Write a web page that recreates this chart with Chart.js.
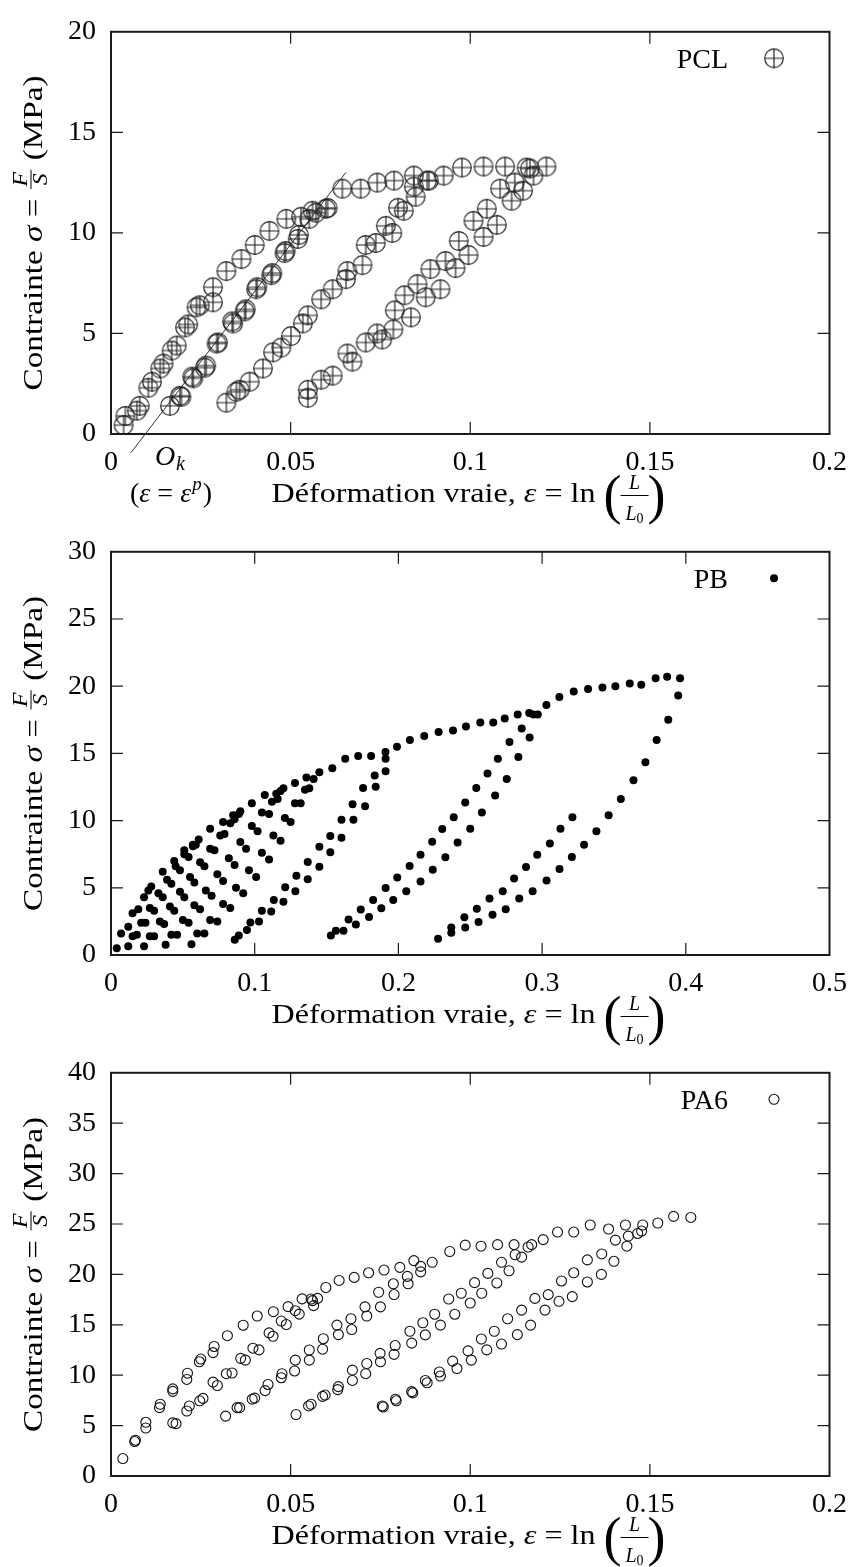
<!DOCTYPE html>
<html>
<head>
<meta charset="utf-8">
<script src="https://cdn.jsdelivr.net/npm/chart.js@4.4.1/dist/chart.umd.min.js"></script>
<style>
  html, body { margin: 0; padding: 0; background: #fff; }
  body { position: relative; width: 859px; height: 1567px; overflow: hidden; }
  canvas { position: absolute; left: 0; }
</style>
</head>
<body>
<canvas id="graficoPCL" width="859" height="560" style="top:0px"></canvas>
<canvas id="graficoPB" width="859" height="560" style="top:520px"></canvas>
<canvas id="graficoPA6" width="859" height="526" style="top:1041px"></canvas>
<script>
// ticks
const ticksStrainA = [0, 0.05, 0.1, 0.15, 0.2];
const labelsStrainA = ['0', '0.05', '0.1', '0.15', '0.2'];
const ticksStrainB = [0, 0.1, 0.2, 0.3, 0.4, 0.5];
const labelsStrainB = ['0', '0.1', '0.2', '0.3', '0.4', '0.5'];
const ticksStressPCL = [0, 5, 10, 15, 20];
const ticksStressPB = [0, 5, 10, 15, 20, 25, 30];
const ticksStressPA6 = [0, 5, 10, 15, 20, 25, 30, 35, 40];

// PCL : deformation / contrainte
const pclStrain = [
  0.0035, 0.0040, 0.0072, 0.0080, 0.0104, 0.0114, 0.0137, 0.0146, 0.0169, 0.0183, 0.0206, 0.0215,
  0.0238, 0.0247, 0.0284, 0.0284, 0.0321, 0.0363, 0.0400, 0.0441, 0.0488, 0.0529, 0.0561, 0.0598,
  0.0644, 0.0695, 0.0741, 0.0788, 0.0843, 0.0885, 0.0926, 0.0977, 0.1037, 0.1097, 0.1157, 0.1212,
  0.0164, 0.0192, 0.0196, 0.0229, 0.0226, 0.0261, 0.0265, 0.0298, 0.0294, 0.0340, 0.0337, 0.0372,
  0.0375, 0.0404, 0.0407, 0.0446, 0.0449, 0.0483, 0.0486, 0.0520, 0.0523, 0.0552, 0.0570, 0.0603,
  0.0321, 0.0349, 0.0358, 0.0386, 0.0423, 0.0451, 0.0474, 0.0501, 0.0534, 0.0548, 0.0585, 0.0617,
  0.0658, 0.0654, 0.0700, 0.0709, 0.0737, 0.0765, 0.0783, 0.0799, 0.0815, 0.0843, 0.0848, 0.0880,
  0.0548, 0.0548, 0.0585, 0.0617, 0.0658, 0.0672, 0.0709, 0.0741, 0.0755, 0.0786, 0.0790, 0.0817,
  0.0835, 0.0853, 0.0876, 0.0889, 0.0917, 0.0931, 0.0959, 0.0968, 0.0995, 0.1009, 0.1037, 0.1046,
  0.1074, 0.1083, 0.1115, 0.1124, 0.1147, 0.1166, 0.1176
];
const pclStress = [
  0.44, 0.90, 1.16, 1.40, 2.30, 2.60, 3.26, 3.50, 4.15, 4.40, 5.30, 5.45,
  6.30, 6.40, 6.55, 7.30, 8.10, 8.70, 9.40, 10.10, 10.70, 10.80, 11.10, 11.20,
  12.20, 12.20, 12.50, 12.60, 12.85, 12.60, 12.85, 13.25, 13.30, 13.30, 13.25, 13.30,
  1.40, 1.90, 1.85, 2.77, 2.85, 3.30, 3.40, 4.55, 4.50, 5.50, 5.60, 6.10,
  6.20, 7.20, 7.30, 7.90, 8.00, 9.00, 9.10, 9.70, 9.90, 10.70, 11.00, 11.24,
  1.56, 2.10, 2.20, 2.60, 3.26, 4.06, 4.30, 4.87, 5.50, 5.90, 6.70, 7.20,
  8.10, 7.70, 8.40, 9.40, 9.50, 10.35, 10.00, 11.25, 11.10, 12.30, 11.80, 12.60,
  2.20, 1.80, 2.70, 2.90, 4.00, 3.60, 4.55, 5.00, 4.70, 5.20, 6.15, 6.90,
  5.80, 7.45, 6.80, 8.20, 7.20, 8.60, 8.25, 9.60, 8.90, 10.60, 9.80, 11.20,
  10.40, 12.20, 11.60, 12.50, 12.10, 13.20, 12.85
];
// droite elastique passant par O_k
const pclSlopeStrain = [0.0056, 0.0654];
const pclSlopeStress = [-0.92, 13.01];

// PB
const pbStrain = [
  0.004, 0.007, 0.012, 0.015, 0.019, 0.023, 0.026, 0.028, 0.036, 0.044, 0.051, 0.057,
  0.061, 0.069, 0.078, 0.085, 0.090, 0.098, 0.107, 0.115, 0.120, 0.128, 0.136, 0.145,
  0.154, 0.163, 0.172, 0.181, 0.191, 0.199, 0.208, 0.218, 0.228, 0.238, 0.247, 0.257,
  0.266, 0.274, 0.283, 0.291, 0.294, 0.297, 0.303, 0.312, 0.322, 0.332, 0.342, 0.351,
  0.361, 0.369, 0.379, 0.387, 0.396,
  0.3947, 0.3878, 0.3797, 0.3719, 0.3636, 0.3548, 0.3463, 0.3378, 0.3292, 0.3207, 0.3121, 0.3031,
  0.2934, 0.2841, 0.2747, 0.2655, 0.2558, 0.2465, 0.2368, 0.2276,
  0.2368, 0.2459, 0.2546, 0.2634, 0.2726, 0.2805, 0.2888, 0.2966, 0.3054, 0.3128, 0.3211,
  0.2913, 0.2835, 0.2754, 0.2673, 0.2581, 0.2500, 0.2412, 0.2327, 0.2239, 0.2154, 0.2055, 0.1964,
  0.1881, 0.1796, 0.1704, 0.1618, 0.1530,
  0.1565, 0.1653, 0.1738, 0.1824, 0.1911, 0.1992, 0.2078, 0.2154, 0.2235, 0.2305, 0.2385, 0.2465,
  0.2542, 0.2620, 0.2692, 0.2773, 0.2858,
  0.1911, 0.1842, 0.1768, 0.1687, 0.1604, 0.1526, 0.1450, 0.1369, 0.1283, 0.1200, 0.1115, 0.1030,
  0.0946, 0.0861,
  0.0889, 0.0970, 0.1050, 0.1133, 0.1212, 0.1290, 0.1369, 0.1450, 0.1526, 0.1604, 0.1681, 0.1754,
  0.1835, 0.1911,
  0.056, 0.065, 0.074, 0.083, 0.092, 0.101, 0.110, 0.118, 0.125, 0.132, 0.138,
  0.060, 0.069, 0.078, 0.087, 0.096, 0.105, 0.113, 0.121, 0.128, 0.135, 0.141,
  0.038, 0.046, 0.054, 0.062, 0.070, 0.078, 0.086, 0.094, 0.102, 0.110, 0.116,
  0.042, 0.050, 0.058, 0.066, 0.074, 0.082, 0.090, 0.098, 0.105, 0.112, 0.118,
  0.023, 0.030, 0.037, 0.044, 0.051, 0.058, 0.065, 0.072, 0.079, 0.086,
  0.027, 0.034, 0.041, 0.048, 0.055, 0.062, 0.069, 0.076, 0.083, 0.089,
  0.012, 0.018, 0.024, 0.030, 0.036, 0.042, 0.048, 0.054, 0.059,
  0.015, 0.021, 0.027, 0.033, 0.039, 0.045, 0.051, 0.057
];
const pbStress = [
  0.5, 1.6, 2.1, 3.1, 3.4, 4.3, 4.8, 5.1, 6.2, 7.0, 7.8, 8.1,
  8.6, 9.4, 9.9, 10.4, 10.7, 11.3, 11.9, 12.0, 12.4, 12.8, 13.2, 13.6,
  13.9, 14.6, 14.8, 14.8, 15.1, 15.5, 16.0, 16.3, 16.6, 16.7, 17.0, 17.3,
  17.3, 17.6, 17.9, 18.0, 17.9, 17.9, 18.6, 19.2, 19.6, 19.8, 19.9, 20.0,
  20.2, 20.1, 20.6, 20.7, 20.6,
  19.3, 17.5, 16.0, 14.35, 13.0, 11.6, 10.4, 9.2, 8.2, 7.3, 6.4, 5.55,
  4.75, 4.2, 3.4, 3.0, 2.45, 2.05, 1.65, 1.2,
  2.05, 2.8, 3.45, 4.2, 4.75, 5.7, 6.55, 7.45, 8.3, 9.4, 10.25,
  16.18, 14.74, 13.1, 11.87, 10.6, 9.4, 8.37, 7.28, 6.34, 5.47, 4.75, 4.1,
  3.47, 2.82, 2.27, 1.8, 1.45,
  1.8, 2.65, 3.38, 4.1, 4.99, 5.76, 6.63, 7.45, 8.42, 9.38, 10.25, 11.34,
  12.42, 13.5, 14.6, 15.85, 16.86,
  13.68, 12.52, 11.07, 10.06, 8.73, 7.65, 6.56, 5.64, 4.75, 3.96, 3.23, 2.5,
  1.86, 1.13,
  1.45, 2.41, 3.3, 4.1, 5.04, 5.9, 6.92, 8.06, 8.85, 10.06, 11.22, 12.42,
  13.36, 14.6,
  0.8, 1.6, 2.5, 3.5, 4.6, 5.8, 7.1, 8.5, 9.9, 11.3, 12.4,
  1.6, 2.6, 3.8, 5.0, 6.3, 7.6, 8.9, 10.2, 11.3, 12.3, 13.1,
  0.77, 1.5, 2.4, 3.4, 4.4, 5.5, 6.7, 7.9, 9.2, 10.5, 11.6,
  1.5, 2.6, 3.7, 4.8, 6.0, 7.2, 8.4, 9.6, 10.6, 11.4, 12.2,
  0.65, 1.4, 2.3, 3.3, 4.3, 5.4, 6.6, 7.8, 9.0, 10.1,
  1.4, 2.5, 3.6, 4.7, 5.8, 6.9, 7.9, 8.9, 9.8, 10.5,
  0.65, 1.5, 2.4, 3.3, 4.3, 5.3, 6.3, 7.3, 8.2,
  1.4, 2.4, 3.5, 4.6, 5.6, 6.6, 7.5, 8.2
];

// PA6
const pa6Strain = [
  0.0033, 0.0066, 0.0068, 0.0097, 0.0097, 0.0135, 0.0137, 0.0172, 0.0172, 0.0211, 0.0213, 0.0246,
  0.0250, 0.0284, 0.0287, 0.0324, 0.0368, 0.0407, 0.0452, 0.0493, 0.0532, 0.0561, 0.0575, 0.0598,
  0.0635, 0.0677, 0.0717, 0.0760, 0.0804, 0.0843, 0.0862, 0.0894, 0.0943, 0.0986, 0.1030, 0.1076,
  0.1122, 0.1203, 0.1243, 0.1288, 0.1334, 0.1385, 0.1432, 0.1480, 0.1522, 0.1566, 0.1614,
  0.0172, 0.0181, 0.0211, 0.0218, 0.0247, 0.0256, 0.0284, 0.0296, 0.0321, 0.0337, 0.0361, 0.0374,
  0.0395, 0.0412, 0.0440, 0.0451, 0.0474, 0.0488, 0.0513, 0.0524, 0.0557, 0.0564,
  0.0319, 0.0351, 0.0358, 0.0393, 0.0400, 0.0429, 0.0437, 0.0474, 0.0476, 0.0511, 0.0513, 0.0552,
  0.0552, 0.0589, 0.0591, 0.0633, 0.0629, 0.0670, 0.0668, 0.0712, 0.0707, 0.0750, 0.0745, 0.0788,
  0.0786, 0.0827, 0.0825, 0.0862,
  0.0515, 0.0550, 0.0557, 0.0589, 0.0596, 0.0631, 0.0633, 0.0672, 0.0672, 0.0709, 0.0712, 0.0750,
  0.0749, 0.0788, 0.0791, 0.0837, 0.0832, 0.0868, 0.0875, 0.0901, 0.0917, 0.0940, 0.0957, 0.0975,
  0.1000, 0.1012, 0.1032, 0.1049, 0.1074, 0.1087, 0.1108, 0.1125, 0.1143, 0.1161, 0.1171,
  0.0755, 0.0758, 0.0792, 0.0794, 0.0837, 0.0840, 0.0875, 0.0880, 0.0914, 0.0917, 0.0951, 0.0963,
  0.0994, 0.1003, 0.1031, 0.1046, 0.1067, 0.1087, 0.1104, 0.1131, 0.1143, 0.1168, 0.1180, 0.1208,
  0.1217, 0.1247, 0.1254, 0.1284, 0.1288, 0.1326, 0.1326, 0.1365, 0.1366, 0.1400, 0.1404, 0.1436,
  0.1440, 0.1466, 0.1477
];
const pa6Stress = [
  1.73, 3.42, 3.55, 4.76, 5.33, 6.78, 7.12, 8.40, 8.64, 9.58, 10.20, 11.33,
  11.60, 12.24, 12.85, 13.92, 14.96, 15.87, 16.30, 16.80, 17.57, 17.40, 17.62, 18.70,
  19.40, 19.70, 20.16, 20.43, 20.70, 21.37, 20.80, 21.20, 22.27, 22.90, 22.80, 22.95,
  22.95, 23.45, 24.20, 24.20, 24.90, 24.50, 24.90, 24.90, 25.10, 25.76, 25.65,
  5.27, 5.20, 6.45, 6.95, 7.46, 7.70, 9.31, 8.98, 10.15, 10.22, 11.67, 11.50,
  12.68, 12.51, 14.20, 13.86, 15.37, 15.03, 16.40, 16.06, 17.56, 16.90,
  5.94, 6.78, 6.78, 7.62, 7.73, 8.47, 9.08, 9.75, 10.15, 10.42, 11.50, 11.50,
  12.50, 12.58, 13.62, 14.03, 14.97, 14.53, 15.60, 15.87, 16.78, 16.78, 18.23, 18.00,
  19.07, 19.07, 19.80, 20.25,
  6.10, 6.95, 7.12, 7.90, 8.03, 8.57, 8.87, 9.48, 10.50, 10.15, 11.16, 11.33,
  12.17, 12.07, 12.94, 13.18, 14.36, 15.20, 14.00, 16.05, 14.97, 17.56, 16.05, 18.13,
  17.16, 19.18, 18.13, 20.10, 19.15, 21.20, 20.36, 21.95, 21.71, 22.72, 22.95,
  6.95, 6.85, 7.62, 7.46, 8.37, 8.25, 9.48, 9.25, 10.32, 9.92, 11.40, 10.66,
  12.41, 11.50, 13.59, 12.51, 14.36, 13.09, 15.60, 14.03, 16.46, 14.97, 17.62, 16.46,
  17.99, 17.33, 19.35, 17.80, 20.16, 19.25, 21.44, 20.00, 22.03, 21.30, 23.40, 22.80,
  23.80, 24.06, 24.30
];

const FAM = '"Liberation Serif", "Times New Roman", serif';
const RM = '28px ' + FAM;
const IT = 'italic 28px ' + FAM;
const SMI = 'italic 20px ' + FAM;
const TINY = '14px ' + FAM;

function pares(xs, ys) {
    return xs.map((x, i) => ({ x: x, y: ys[i] }));
}

function circuloCruz() {
    let c = document.createElement('canvas');
    c.width = 22;
    c.height = 22;
    let g = c.getContext('2d');
    g.strokeStyle = '#1e1e1e';
    g.lineWidth = 1.15;
    g.beginPath();
    g.arc(11, 11, 9.3, 0, 2 * Math.PI);
    g.moveTo(11, 1.7); g.lineTo(11, 20.3);
    g.moveTo(1.7, 11); g.lineTo(20.3, 11);
    g.stroke();
    return c;
}
const marcaPCL = circuloCruz();

function runWidth(ctx, parts) {
    let w = 0;
    parts.forEach(p => { ctx.font = p[1]; w += ctx.measureText(p[0]).width; });
    return w;
}

function drawRun(ctx, parts, x, y) {
    parts.forEach(p => {
        ctx.font = p[1];
        ctx.fillText(p[0], x, y);
        x += ctx.measureText(p[0]).width;
    });
    return x;
}

function drawYTitle(ctx, cy) {
    const before = [['Contrainte ', RM], ['σ', IT], [' = ', RM]];
    const after = [[' (MPa)', RM]];
    ctx.font = SMI;
    const fw = Math.max(ctx.measureText('F').width, ctx.measureText('S').width) + 6;
    const total = runWidth(ctx, before) + fw + runWidth(ctx, after);
    ctx.save();
    ctx.translate(42, cy);
    ctx.rotate(-Math.PI / 2);
    ctx.scale(315 / total, 1);
    ctx.textAlign = 'left';
    let x = drawRun(ctx, before, -total / 2, 0);
    ctx.font = SMI;
    ctx.textAlign = 'center';
    ctx.fillText('F', x + fw / 2, -15);
    ctx.fillText('S', x + fw / 2, 5);
    ctx.fillRect(x + 1, -11.5, fw - 2, 1);
    ctx.textAlign = 'left';
    drawRun(ctx, after, x + fw, 0);
    ctx.restore();
}

function drawXTitle(ctx, cx, bottom) {
    const run = [['Déformation vraie, ', RM], ['ε', IT], [' = ', RM], ['ln', RM]];
    const w = runWidth(ctx, run);
    ctx.save();
    ctx.translate(cx - 198.7, bottom + 67.5);
    ctx.scale(324 / w, 1);
    ctx.textAlign = 'left';
    drawRun(ctx, run, 0, 0);
    ctx.restore();

    ctx.font = '54px ' + FAM;
    ctx.textAlign = 'left';
    ctx.fillText('(', cx + 133.3, bottom + 79);
    ctx.textAlign = 'right';
    ctx.fillText(')', cx + 195.3, bottom + 79);

    const fx = cx + 164.3;
    ctx.font = SMI;
    ctx.textAlign = 'center';
    ctx.fillText('L', fx, bottom + 55);
    ctx.fillRect(fx - 14, bottom + 61, 28, 1);
    const lw = ctx.measureText('L').width;
    ctx.font = TINY;
    const zw = ctx.measureText('0').width;
    const x0 = fx - (lw + zw) / 2;
    ctx.textAlign = 'left';
    ctx.font = SMI;
    ctx.fillText('L', x0, bottom + 86);
    ctx.font = TINY;
    ctx.fillText('0', x0 + lw, bottom + 89);
}

const textoLatex = {
    id: 'latexText',
    afterDraw(chart, args, opts) {
        const ctx = chart.ctx;
        const a = chart.chartArea;
        const sx = chart.scales.x;
        const sy = chart.scales.y;
        ctx.save();

        // cadre + graduations interieures
        ctx.strokeStyle = '#1a1a1a';
        ctx.lineWidth = 2;
        ctx.strokeRect(a.left, a.top, a.right - a.left, a.bottom - a.top);
        ctx.lineWidth = 1.2;
        ctx.beginPath();
        sx.ticks.forEach(t => {
            const p = sx.getPixelForValue(t.value);
            if (p > a.left + 1 && p < a.right - 1) {
                ctx.moveTo(p, a.bottom); ctx.lineTo(p, a.bottom - 12);
                ctx.moveTo(p, a.top); ctx.lineTo(p, a.top + 12);
            }
        });
        sy.ticks.forEach(t => {
            const p = sy.getPixelForValue(t.value);
            if (p > a.top + 1 && p < a.bottom - 1) {
                ctx.moveTo(a.left, p); ctx.lineTo(a.left + 12, p);
                ctx.moveTo(a.right, p); ctx.lineTo(a.right - 12, p);
            }
        });
        ctx.stroke();

        ctx.fillStyle = '#000';
        ctx.textBaseline = 'alphabetic';
        drawYTitle(ctx, (a.top + a.bottom) / 2);
        drawXTitle(ctx, (a.left + a.right) / 2, a.bottom);

        // legende
        ctx.font = RM;
        ctx.textAlign = 'right';
        ctx.fillText(opts.nom, 728, a.top + 36);
        opts.marque(ctx, 774, a.top + 26.5);

        if (opts.ok) {
            ctx.font = IT;
            ctx.textAlign = 'center';
            ctx.fillText('O', 165, a.bottom + 31);
            ctx.font = SMI;
            ctx.textAlign = 'left';
            ctx.fillText('k', 176, a.bottom + 36);
            ctx.textAlign = 'left';
            let x = drawRun(ctx, [['(', RM], ['ε', IT], [' = ', RM], ['ε', IT]], 130, a.bottom + 67.5);
            ctx.font = 'italic 19px ' + FAM;
            ctx.fillText('p', x + 1, a.bottom + 56);
            x += ctx.measureText('p').width + 2;
            ctx.font = RM;
            ctx.fillText(')', x, a.bottom + 67.5);
        }
        ctx.restore();
    }
};

function criarGrafico(id, cfg) {
    return new Chart(document.getElementById(id), {
        type: 'scatter',
        data: { datasets: cfg.datasets },
        options: {
            responsive: false,
            animation: false,
            events: [],
            devicePixelRatio: 1,
            layout: { padding: { top: 21, right: 26, left: 0, bottom: 0 } },
            plugins: {
                legend: { display: false },
                tooltip: { enabled: false },
                latexText: cfg.texto
            },
            scales: {
                x: {
                    type: 'linear',
                    min: cfg.xTicks[0],
                    max: cfg.xTicks[cfg.xTicks.length - 1],
                    afterFit: (s) => { s.height = cfg.xHeight; },
                    afterBuildTicks: (s) => { s.ticks = cfg.xTicks.map(v => ({ value: v })); },
                    ticks: {
                        callback: (v, i) => cfg.xLabels[i],
                        font: { family: FAM, size: 28 },
                        color: '#000',
                        padding: 12,
                        maxRotation: 0,
                        autoSkip: false
                    },
                    grid: { display: false, drawTicks: false },
                    border: { display: false }
                },
                y: {
                    type: 'linear',
                    min: cfg.yTicks[0],
                    max: cfg.yTicks[cfg.yTicks.length - 1],
                    afterFit: (s) => { s.width = 111; },
                    afterBuildTicks: (s) => { s.ticks = cfg.yTicks.map(v => ({ value: v })); },
                    ticks: {
                        callback: (v) => String(v),
                        font: { family: FAM, size: 28 },
                        color: '#000',
                        padding: 15,
                        autoSkip: false
                    },
                    grid: { display: false, drawTicks: false },
                    border: { display: false }
                }
            }
        },
        plugins: [textoLatex]
    });
}

criarGrafico('graficoPCL', {
    xTicks: ticksStrainA, xLabels: labelsStrainA, yTicks: ticksStressPCL, xHeight: 126,
    texto: {
        nom: 'PCL', ok: true,
        marque: (ctx, x, y) => { ctx.drawImage(marcaPCL, x - 11, y - 11); }
    },
    datasets: [
        {
            label: 'PCL',
            data: pares(pclStrain, pclStress),
            pointStyle: marcaPCL,
            pointRadius: 9
        },
        {
            label: 'droite',
            data: pares(pclSlopeStrain, pclSlopeStress),
            showLine: true,
            borderColor: '#333',
            borderWidth: 1,
            pointRadius: 0,
            clip: false
        }
    ]
});

criarGrafico('graficoPB', {
    xTicks: ticksStrainB, xLabels: labelsStrainB, yTicks: ticksStressPB, xHeight: 125,
    texto: {
        nom: 'PB', ok: false,
        marque: (ctx, x, y) => { ctx.beginPath(); ctx.arc(x, y, 4, 0, 2 * Math.PI); ctx.fill(); }
    },
    datasets: [{
        label: 'PB',
        data: pares(pbStrain, pbStress),
        pointStyle: 'circle',
        pointRadius: 4,
        pointBackgroundColor: '#000',
        pointBorderWidth: 0
    }]
});

criarGrafico('graficoPA6', {
    xTicks: ticksStrainA, xLabels: labelsStrainA, yTicks: ticksStressPA6, xHeight: 91,
    texto: {
        nom: 'PA6', ok: false,
        marque: (ctx, x, y) => {
            ctx.strokeStyle = '#111'; ctx.lineWidth = 1.1;
            ctx.beginPath(); ctx.arc(x, y, 5, 0, 2 * Math.PI); ctx.stroke();
        }
    },
    datasets: [{
        label: 'PA6',
        data: pares(pa6Strain, pa6Stress),
        pointStyle: 'circle',
        pointRadius: 5,
        pointBackgroundColor: 'rgba(0,0,0,0)',
        pointBorderColor: '#111',
        pointBorderWidth: 1.1
    }]
});
</script>
</body>
</html>
